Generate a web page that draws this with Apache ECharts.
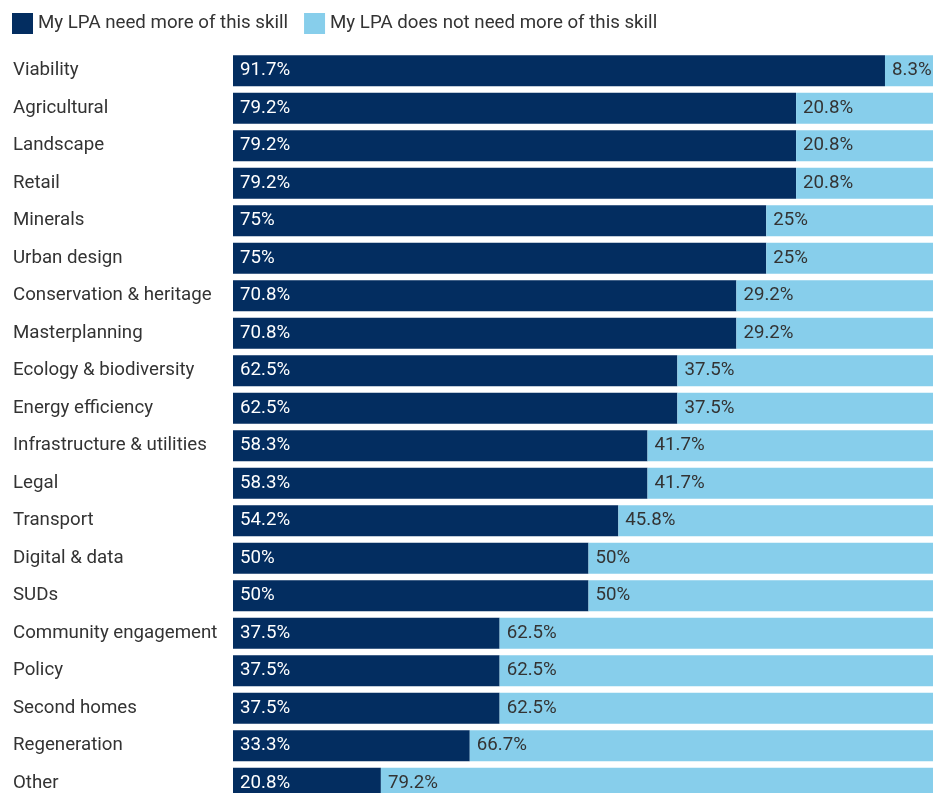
<!DOCTYPE html>
<html><head><meta charset="utf-8">
<script src="https://cdn.jsdelivr.net/npm/echarts@6/dist/echarts.min.js"></script>
<style>html,body{margin:0;padding:0;background:#fff}#c{width:933px;height:793px}</style>
</head><body><div id="c"></div>
<script>
const categories = ["Viability","Agricultural","Landscape","Retail","Minerals","Urban design","Conservation & heritage","Masterplanning","Ecology & biodiversity","Energy efficiency","Infrastructure & utilities","Legal","Transport","Digital & data","SUDs","Community engagement","Policy","Second homes","Regeneration","Other"];
const needMore = [91.7,79.2,79.2,79.2,75,75,70.8,70.8,62.5,62.5,58.3,58.3,54.2,50,50,37.5,37.5,37.5,33.3,20.8];
const notNeed = [8.3,20.8,20.8,20.8,25,25,29.2,29.2,37.5,37.5,41.7,41.7,45.8,50,50,62.5,62.5,62.5,66.7,79.2];
const seriesNames = ["My LPA need more of this skill","My LPA does not need more of this skill"];

const chart = echarts.init(document.getElementById('c'));
const font = 'Roboto';
const fs = 18.7;
chart.setOption({
  animation:false,
  textStyle:{fontFamily:font},
  legend:{
    left:12, top:13, padding:0, itemWidth:21, itemHeight:21, itemGap:16,
    icon:'rect',
    textStyle:{fontSize:fs, color:'#333', fontFamily:font},
    data:seriesNames
  },
  grid:{left:233, width:711, top:52, height:750, outerBoundsMode:'none', containLabel:false},
  xAxis:{type:'value', min:0, max:100, show:false},
  yAxis:{type:'category', data:categories, inverse:true,
    axisLine:{show:false}, axisTick:{show:false},
    axisLabel:{align:'left', margin:220, fontSize:fs, color:'#333', fontFamily:font}
  },
  series:[
    {name:seriesNames[0], type:'bar', stack:'t', data:needMore, barWidth:31,
     itemStyle:{color:'#032d60'},
     label:{show:true, position:'insideLeft', distance:7, color:'#fff', fontSize:fs, fontFamily:font, formatter:p=>p.value+'%'}},
    {name:seriesNames[1], type:'bar', stack:'t', data:notNeed, barWidth:31,
     itemStyle:{color:'#87ceeb'},
     label:{show:true, position:'insideLeft', distance:7, color:'#333', fontSize:fs, fontFamily:font, formatter:p=>p.value+'%'}}
  ]
});
</script></body></html>
